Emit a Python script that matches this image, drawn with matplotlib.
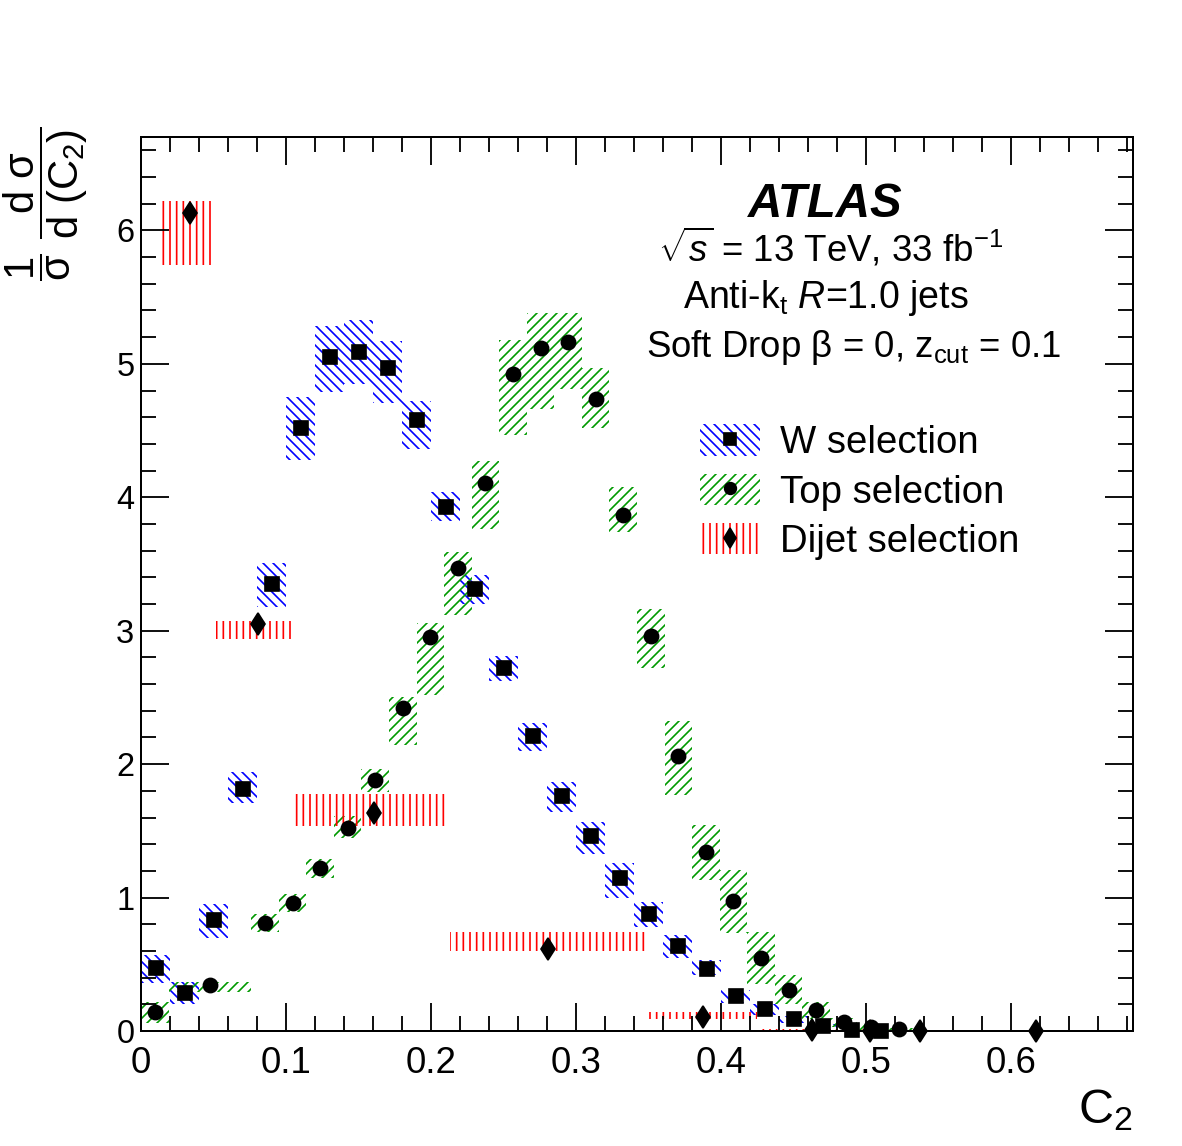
import matplotlib
matplotlib.use('Agg')
import matplotlib.pyplot as plt
from matplotlib.patches import Patch
from matplotlib.lines import Line2D
from matplotlib.legend_handler import HandlerTuple
from matplotlib.ticker import MultipleLocator
import numpy as np

# ---- data ----
# W selection: 0.02 wide bins
w_x = [0.01, 0.03, 0.05, 0.07, 0.09, 0.11, 0.13, 0.15, 0.17, 0.19, 0.21, 0.23, 0.25,
       0.27, 0.29, 0.31, 0.33, 0.35, 0.37, 0.39, 0.41, 0.43, 0.45, 0.47, 0.49, 0.51]
w_width = 0.02
w_y = [0.47, 0.285, 0.83, 1.815, 3.35, 4.52, 5.05, 5.09, 4.97, 4.58, 3.93, 3.31, 2.72,
       2.21, 1.76, 1.46, 1.15, 0.88, 0.64, 0.465, 0.26, 0.165, 0.09, 0.035, 0.005, 0.002]
w_lo = [0.36, 0.20, 0.70, 1.71, 3.18, 4.28, 4.79, 4.85, 4.71, 4.36, 3.82, 3.20, 2.62,
        2.10, 1.64, 1.33, 1.00, 0.78, 0.55, 0.42, 0.21, 0.12, 0.06, 0.02, 0.0, 0.0]
w_hi = [0.57, 0.37, 0.95, 1.94, 3.51, 4.75, 5.28, 5.33, 5.17, 4.72, 4.04, 3.42, 2.81,
        2.31, 1.87, 1.57, 1.26, 0.97, 0.72, 0.53, 0.31, 0.20, 0.11, 0.05, 0.01, 0.005]

# Top selection: variable bins
top_edges = [0.0, 0.019, 0.076, 0.095, 0.114, 0.133, 0.152, 0.171, 0.19, 0.209, 0.228,
             0.247, 0.266, 0.285, 0.304, 0.323, 0.342, 0.361, 0.38, 0.399, 0.418, 0.437,
             0.456, 0.475, 0.494, 0.513, 0.532]
top_y = [0.14, 0.345, 0.81, 0.96, 1.22, 1.52, 1.88, 2.42, 2.95, 3.47, 4.11, 4.92, 5.12,
         5.16, 4.74, 3.87, 2.96, 2.06, 1.34, 0.975, 0.55, 0.31, 0.155, 0.065, 0.03, 0.015]
top_lo = [0.06, 0.29, 0.74, 0.89, 1.15, 1.45, 1.79, 2.14, 2.52, 3.12, 3.76, 4.47, 4.66,
          4.81, 4.52, 3.74, 2.72, 1.77, 1.13, 0.735, 0.35, 0.20, 0.09, 0.03, 0.01, 0.005]
top_hi = [0.22, 0.37, 0.88, 1.03, 1.29, 1.61, 1.96, 2.50, 3.06, 3.59, 4.27, 5.18, 5.38,
          5.38, 4.97, 4.08, 3.16, 2.32, 1.545, 1.21, 0.74, 0.42, 0.22, 0.10, 0.05, 0.02]

# Dijet selection: wide bins
dijet_x = [0.0338, 0.0807, 0.1607, 0.2807, 0.3876, 0.463, 0.503, 0.537, 0.617]
dijet_xlo = [0.013, 0.052, 0.106, 0.213, 0.350, 0.427, 0.503, 0.537, 0.617]
dijet_xhi = [0.051, 0.105, 0.212, 0.349, 0.425, 0.498, 0.503, 0.537, 0.617]
dijet_y = [6.13, 3.05, 1.635, 0.615, 0.105, 0.01, 0.003, 0.002, 0.002]
dijet_lo = [5.74, 2.94, 1.54, 0.60, 0.09, 0.0, 0.0, 0.0, 0.0]
dijet_hi = [6.22, 3.07, 1.78, 0.74, 0.14, 0.015, 0.0, 0.0, 0.0]

# ---- style ----
plt.rcParams['font.family'] = 'Liberation Sans'
plt.rcParams['mathtext.fontset'] = 'custom'
plt.rcParams['mathtext.rm'] = 'Liberation Sans'
plt.rcParams['mathtext.it'] = 'Liberation Sans:italic'
plt.rcParams['mathtext.bf'] = 'Liberation Sans:bold'
plt.rcParams['hatch.linewidth'] = 1.0

W_HATCH = '\\\\\\\\'   # 4 backslashes
TOP_HATCH = '////'
DIJET_HATCH = '|||'

fig = plt.figure(figsize=(9.85, 9.55), dpi=120)
ax = fig.add_axes([0.1193, 0.1003, 0.8392, 0.7802])

# uncertainty bands
top_edges = np.array(top_edges)
ax.bar(w_x, np.subtract(w_hi, w_lo), bottom=w_lo, width=w_width, fill=False,
       hatch=W_HATCH, edgecolor='#0000ff', linewidth=0)
ax.bar(top_edges[:-1], np.subtract(top_hi, top_lo), bottom=top_lo,
       width=np.diff(top_edges), align='edge', fill=False,
       hatch=TOP_HATCH, edgecolor='#009900', linewidth=0)
ax.bar(dijet_xlo, np.subtract(dijet_hi, dijet_lo), bottom=dijet_lo,
       width=np.subtract(dijet_xhi, dijet_xlo), align='edge', fill=False,
       hatch=DIJET_HATCH, edgecolor='#ff0000', linewidth=0)

# central values
top_x = 0.5 * (top_edges[:-1] + top_edges[1:])
ax.plot(w_x, w_y, 's', color='black', markersize=8.5, clip_on=False, zorder=5)
ax.plot(top_x, top_y, 'o', color='black', markersize=8.5, clip_on=False, zorder=5)
ax.plot(dijet_x, dijet_y, 'd', color='black', markersize=9.5, clip_on=False, zorder=5)

# axes, ROOT-like
ax.set_xlim(0, 0.684)
ax.set_ylim(0, 6.7)
ax.xaxis.set_major_locator(MultipleLocator(0.1))
ax.xaxis.set_minor_locator(MultipleLocator(0.02))
ax.yaxis.set_major_locator(MultipleLocator(1))
ax.yaxis.set_minor_locator(MultipleLocator(0.2))
ax.xaxis.set_major_formatter(matplotlib.ticker.FuncFormatter(lambda v, p: f'{v:g}'))
for s in ax.spines.values():
    s.set_linewidth(1.2)
ax.tick_params(which='both', direction='in', top=True, right=True, width=1.1)
ax.tick_params(which='major', length=17)
ax.tick_params(which='minor', length=9)
ax.tick_params(axis='x', labelsize=22, pad=9)
ax.tick_params(axis='y', labelsize=19.5, pad=4)

ax.set_xlabel(r'C$_{2}$', fontsize=29, loc='right', labelpad=4)
ax.text(-0.096, 1.012, r'$\dfrac{1}{\mathrm{\sigma}}\ \dfrac{\mathrm{d\ \sigma}}{\mathrm{d\ (C_{2})}}$',
        transform=ax.transAxes, rotation=90, ha='center', va='top', fontsize=25)

# labels
fig.text(0.698, 0.8106, 'ATLAS', fontsize=28.5, fontweight='bold', fontstyle='italic',
         ha='center', va='baseline')
fig.text(0.703, 0.7714, r'$\sqrt{s}$ = 13 TeV, 33 fb$^{-1}$', fontsize=22,
         ha='center', va='baseline')
fig.text(0.699, 0.7312, r'Anti-k$_{\mathrm{t}}$ $R$=1.0 jets', fontsize=22.5,
         ha='center', va='baseline')
fig.text(0.7217, 0.6885, r'Soft Drop β = 0, z$_{\mathrm{cut}}$ = 0.1', fontsize=22,
         ha='center', va='baseline')

# legend
handles = [
    (Patch(facecolor='none', edgecolor='#0000ff', hatch=W_HATCH, linewidth=0),
     Line2D([], [], marker='s', color='black', linestyle='none', markersize=7)),
    (Patch(facecolor='none', edgecolor='#009900', hatch=TOP_HATCH, linewidth=0),
     Line2D([], [], marker='o', color='black', linestyle='none', markersize=7)),
    (Patch(facecolor='none', edgecolor='#ff0000', hatch=DIJET_HATCH, linewidth=0),
     Line2D([], [], marker='d', color='black', linestyle='none', markersize=8.5)),
]
ax.legend(handles, ['W selection', 'Top selection', 'Dijet selection'],
          handler_map={tuple: HandlerTuple(ndivide=1)},
          loc='upper left', bbox_to_anchor=(0.5635, 0.6784), frameon=False,
          fontsize=23, handlelength=1.56, handleheight=0.87, handletextpad=0.52,
          labelspacing=0.33, borderpad=0, borderaxespad=0)

plt.savefig('out.png', dpi=120)
